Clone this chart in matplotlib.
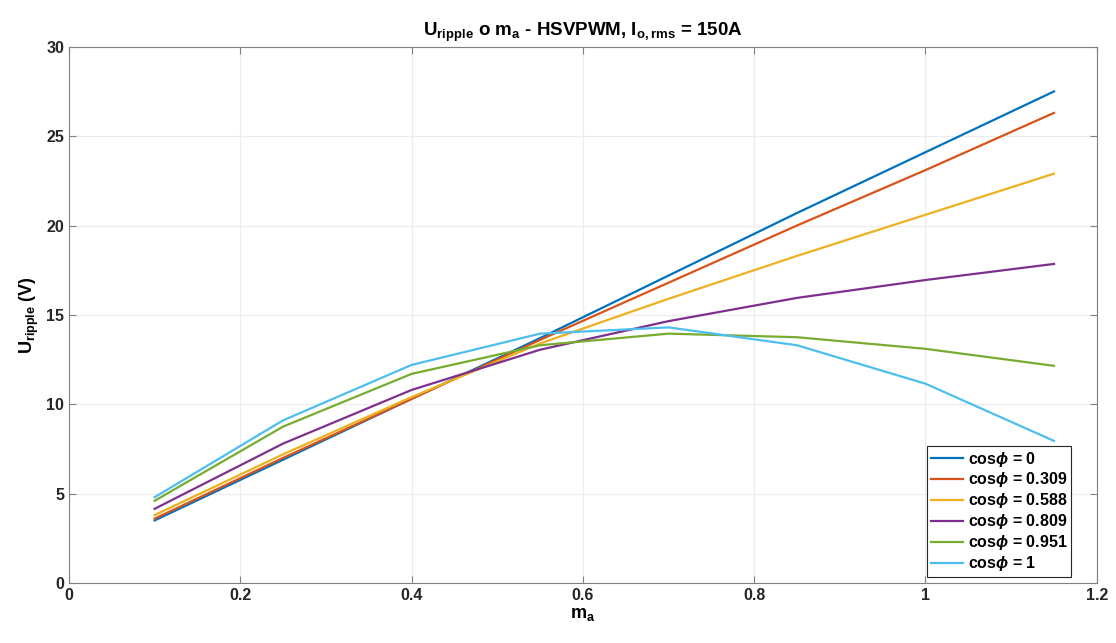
import numpy as np
import matplotlib
matplotlib.use("Agg")
from matplotlib import pyplot as plt

plt.rcParams['font.family'] = ['Liberation Sans', 'DejaVu Sans']
plt.rcParams['font.weight'] = 'bold'
plt.rcParams['mathtext.fontset'] = 'custom'
plt.rcParams['mathtext.rm'] = 'Liberation Sans:bold'
plt.rcParams['mathtext.bf'] = 'Liberation Sans:bold'
plt.rcParams['mathtext.it'] = 'Liberation Sans:italic'

ma = [0.1, 0.25, 0.4, 0.55, 0.7, 0.85, 1.0, 1.15]
u_cos0 = [3.5, 6.9, 10.3, 13.7, 17.2, 20.7, 24.1, 27.5]
u_cos0309 = [3.6, 7.0, 10.3, 13.6, 16.8, 20.0, 23.1, 26.3]
u_cos0588 = [3.8, 7.2, 10.4, 13.4, 15.9, 18.3, 20.6, 22.9]
u_cos0809 = [4.15, 7.8, 10.8, 13.05, 14.65, 15.95, 16.95, 17.85]
u_cos0951 = [4.6, 8.75, 11.7, 13.3, 13.95, 13.75, 13.1, 12.15]
u_cos1 = [4.8, 9.1, 12.2, 13.95, 14.3, 13.3, 11.15, 7.95]
labels = ['0', '0.309', '0.588', '0.809', '0.951', '1']

series = [u_cos0, u_cos0309, u_cos0588, u_cos0809, u_cos0951, u_cos1]
colors = ['#0072BD', '#D95319', '#EDB120', '#7E2F8E', '#77AC30', '#4DBEEE']

fig = plt.figure(figsize=(11.16, 6.43), dpi=100)
ax = fig.add_axes([0.0618, 0.0933, 0.921, 0.834])
for s, c, l in zip(series, colors, labels):
    ax.plot(ma, s, color=c, lw=1.6, label=r'cos$\phi$ = ' + l)

ax.set_xlim(0, 1.2)
ax.set_ylim(0, 30)
ax.set_xticks(np.arange(0, 1.21, 0.2))
ax.set_xticklabels(['0', '0.2', '0.4', '0.6', '0.8', '1', '1.2'])
ax.set_yticks(range(0, 31, 5))
ax.grid(True, color='#ececec', lw=0.8)
ax.set_axisbelow(True)
ax.tick_params(direction='in', labelsize=11.5, labelcolor='#262626', length=5, top=True, right=True,
               labeltop=False, labelright=False, color='#808080')
for sp in ax.spines.values():
    sp.set_color('#808080')
    sp.set_linewidth(0.8)

ax.set_title(r'$\mathbf{U_{ripple}}$ o $\mathbf{m_a}$ - HSVPWM, $\mathbf{I_{o,rms}}$ = 150A',
             fontsize=13.5, fontweight='bold', pad=8)
ax.set_xlabel(r'$\mathbf{m_a}$', fontsize=13, fontweight='bold', labelpad=2)
ax.set_ylabel(r'$\mathbf{U_{ripple}}$ (V)', fontsize=13, fontweight='bold', labelpad=4)

leg = ax.legend(loc='lower right', bbox_to_anchor=(0.975, 0.011), fontsize=11.5, frameon=True,
                fancybox=False, borderpad=0.25, labelspacing=0.12, handlelength=2.0,
                handletextpad=0.3, borderaxespad=0.0)
leg.get_frame().set_edgecolor('#262626')
leg.get_frame().set_linewidth(0.8)
leg.get_frame().set_alpha(1)

fig.savefig('out.png', dpi=100)
